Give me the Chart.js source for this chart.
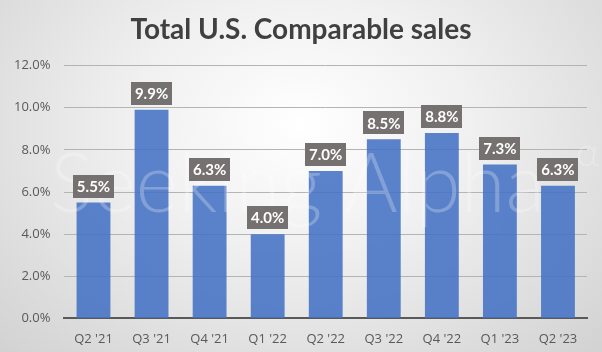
<!DOCTYPE html>
<html><head><meta charset="utf-8">
<script src="https://cdn.jsdelivr.net/npm/chart.js@4.4.0/dist/chart.umd.min.js"></script>
<style>
html,body{margin:0;padding:0;}
body{width:602px;height:352px;background:radial-gradient(ellipse at 50% 35%, #ffffff 0%, #f0f0f0 40%, #d2d2d2 100%);}
#wrap{width:602px;height:352px;position:relative;}
</style></head>
<body><div id="wrap"><canvas id="c" width="602" height="352"></canvas></div>
<script>
const categories = ["Q2 '21","Q3 '21","Q4 '21","Q1 '22","Q2 '22","Q3 '22","Q4 '22","Q1 '23","Q2 '23"];
const compSales = [5.5, 9.9, 6.3, 4.0, 7.0, 8.5, 8.8, 7.3, 6.3];
const titleText = "Total U.S. Comparable sales";
const watermark = "Seeking Alpha";
const watermarkMark = "α";

const labelPlugin = {
  id: 'labels',
  afterDatasetsDraw(chart){
    const ctx = chart.ctx;
    // faint watermark
    ctx.save();
    ctx.fillStyle = 'rgba(255,255,255,0.25)';
    ctx.textBaseline = 'alphabetic';
    ctx.font = '300 82px Lato, "Open Sans", sans-serif';
    ctx.fillText(watermark, 50, 212, 495);
    ctx.font = '300 40px Lato, "Open Sans", sans-serif';
    ctx.fillText(watermarkMark, 576, 166);
    ctx.restore();
    // value labels
    const meta = chart.getDatasetMeta(0);
    ctx.save();
    ctx.font = 'bold 15px Lato, "Open Sans", sans-serif';
    ctx.textAlign = 'center';
    ctx.textBaseline = 'middle';
    meta.data.forEach((bar, i) => {
      const txt = compSales[i].toFixed(1) + '%';
      const w = ctx.measureText(txt).width + 8;
      const h = 23;
      const bottom = bar.y - 5;
      ctx.fillStyle = '#767171';
      ctx.fillRect(Math.round(bar.x - w/2), Math.round(bottom - h), Math.round(w), h);
      ctx.fillStyle = '#ffffff';
      ctx.fillText(txt, bar.x, bottom - h/2 + 1);
    });
    ctx.restore();
  }
};

new Chart(document.getElementById('c'), {
  type: 'bar',
  data: {
    labels: categories,
    datasets: [{
      data: compSales,
      backgroundColor: 'rgba(68,114,196,0.88)',
      borderWidth: 0,
      barPercentage: 0.583,
      categoryPercentage: 1.0
    }]
  },
  options: {
    responsive: false,
    animation: false,
    devicePixelRatio: 1,
    layout: { padding: { left: 15, right: 15, top: 0, bottom: 0 } },
    plugins: {
      legend: { display: false },
      tooltip: { enabled: false },
      title: {
        display: true,
        text: titleText,
        color: '#404040',
        font: { family: 'Lato, "Open Sans", sans-serif', size: 28, weight: 'bold' },
        padding: { top: 13, bottom: 19 }
      }
    },
    scales: {
      x: {
        grid: { display: false },
        border: { display: true, color: '#595959', width: 2 },
        ticks: { color: '#595959', font: { family: '"Open Sans", sans-serif', size: 13 }, padding: 5, maxRotation: 0 }
      },
      y: {
        min: 0, max: 12,
        grid: { color: '#b4b4b4', drawTicks: false },
        border: { display: false },
        afterFit: s => { s.width = s.width - 15; },
        ticks: { stepSize: 2, color: '#595959', padding: 14,
          font: { family: '"Open Sans", sans-serif', size: 13 },
          callback: v => v.toFixed(1) + '%' }
      }
    }
  },
  plugins: [labelPlugin]
});
</script>
</body></html>
